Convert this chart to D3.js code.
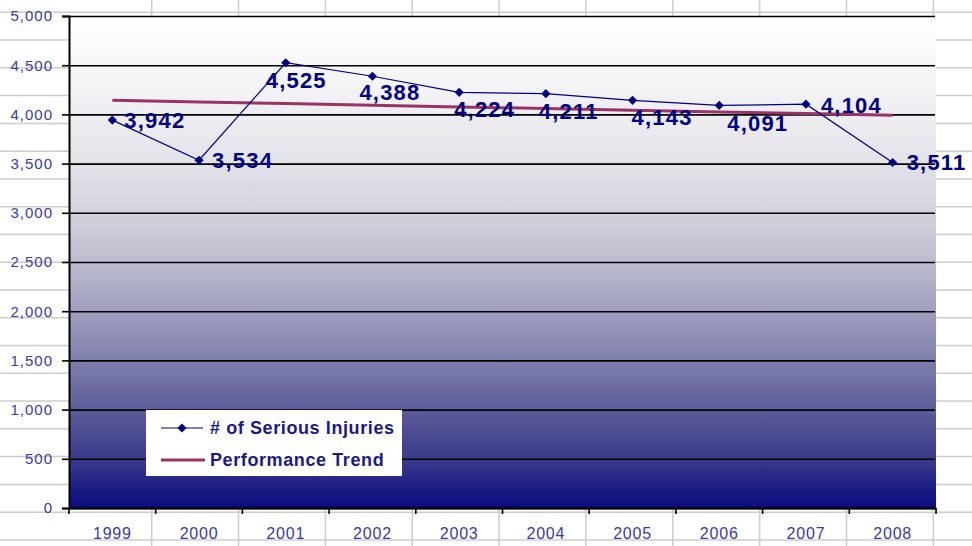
<!DOCTYPE html>
<html><head><meta charset="utf-8">
<script src="https://cdn.jsdelivr.net/npm/d3@7/dist/d3.min.js"></script>
<style>
html,body{margin:0;padding:0;background:#fff;}
svg{display:block;font-family:"Liberation Sans",Arial,sans-serif;}
</style></head>
<body>
<svg id="chart" width="972" height="546"></svg>
<script>
const years = ["1999","2000","2001","2002","2003","2004","2005","2006","2007","2008"];
const injuries = [3942, 3534, 4525, 4388, 4224, 4211, 4143, 4091, 4104, 3511];
const trend = [4144, 4127, 4110, 4093, 4076, 4059, 4042, 4025, 4008, 3991];
const yTicks = [0,500,1000,1500,2000,2500,3000,3500,4000,4500,5000];
const seriesNames = ["# of Serious Injuries", "Performance Trend"];

// label placement (dx to left edge, dy to vertical centre) relative to each point
const labelOffset = [[12,0],[13,0],[-20,17],[-13,16],[-5,16.5],[-7,17.5],[-1,17],[8,17.5],[15,1],[14,0]];

const W = 972, H = 546;
const plot = {left:69, right:936, top:16, bottom:508};
const svg = d3.select("#chart");

// spreadsheet cell grid behind the chart
const sheet = svg.append("g");
for (let k = 0; k <= 19; k++) {
  const yy = 12.3 + k*27.77;
  sheet.append("line").attr("x1",0).attr("x2",W).attr("y1",yy).attr("y2",yy)
    .attr("stroke","#cccccc").attr("stroke-width",1.5);
}
for (let k = 0; k <= 9; k++) {
  const xx = 151.7 + k*86.85;
  sheet.append("line").attr("x1",xx).attr("x2",xx).attr("y1",0).attr("y2",H)
    .attr("stroke","#cccccc").attr("stroke-width",1.5);
}

const x = d3.scaleBand().domain(years).range([plot.left, plot.right]).padding(0);
const y = d3.scaleLinear().domain([0,5000]).range([plot.bottom, plot.top]);
const cx = d => x(d) + x.bandwidth()/2;

// gradient
const defs = svg.append("defs");
const grad = defs.append("linearGradient").attr("id","bg").attr("x1",0).attr("x2",0).attr("y1",0).attr("y2",1);
[[0,"#ffffff"],[0.15,"#f3f3f6"],[0.3,"#e2e2e9"],[0.4,"#d2d2de"],[0.5,"#bcbccf"],[0.6,"#9f9fbe"],
 [0.7,"#7f7fac"],[0.8,"#5d5d9a"],[0.9,"#3a3a8b"],[1,"#0a0a80"]]
 .forEach(s => grad.append("stop").attr("offset",s[0]).attr("stop-color",s[1]));

svg.append("rect").attr("x",plot.left).attr("y",plot.top)
  .attr("width",plot.right-plot.left).attr("height",plot.bottom-plot.top)
  .attr("fill","url(#bg)");

// gridlines
const grid = svg.append("g").attr("transform",`translate(${plot.left},0)`)
  .call(d3.axisLeft(y).tickValues(yTicks).tickSize(-(plot.right-plot.left-1)).tickFormat(""));
grid.select(".domain").remove();
grid.selectAll(".tick line").attr("stroke","#000").attr("stroke-width",1.6);

// y axis
const ya = svg.append("g").attr("transform",`translate(${plot.left},0)`)
  .call(d3.axisLeft(y).tickValues(yTicks).tickSize(7).tickPadding(9).tickFormat(d3.format(",")));
ya.select(".domain").attr("stroke","#000").attr("stroke-width",2);
ya.selectAll(".tick line").attr("stroke","#000").attr("stroke-width",1.6);
ya.selectAll(".tick text").attr("fill","#3a3aa6").style("font-size","15px").style("letter-spacing","1px");

// x axis
const xa = svg.append("g").attr("transform",`translate(0,${plot.bottom})`)
  .call(d3.axisBottom(x).tickSize(0).tickPadding(20));
xa.select(".domain").attr("stroke","#000").attr("stroke-width",2);
xa.selectAll(".tick text").attr("fill","#3a3aa6").style("font-size","16px").style("letter-spacing","0.8px");
const bounds = years.map(d => x(d)).concat([plot.right]);
xa.selectAll(".bt").data(bounds).enter().append("line").attr("class","bt")
  .attr("x1",d=>d).attr("x2",d=>d).attr("y1",0).attr("y2",6)
  .attr("stroke","#000").attr("stroke-width",1.6);

// trend line
const trendLine = d3.line().x((d,i)=>cx(years[i])).y(d=>y(d));
svg.append("path").datum(trend).attr("d",trendLine)
  .attr("fill","none").attr("stroke","#993366").attr("stroke-width",3);

// injuries line
const injLine = d3.line().x((d,i)=>cx(years[i])).y(d=>y(d));
svg.append("path").datum(injuries).attr("d",injLine)
  .attr("fill","none").attr("stroke","#000080").attr("stroke-width",1.2);

const diamond = d3.symbol().type(d3.symbolSquare).size(42);
svg.selectAll(".mk").data(injuries).enter().append("path").attr("class","mk")
  .attr("d",diamond)
  .attr("transform",(d,i)=>`translate(${cx(years[i])},${y(d)}) rotate(45)`)
  .attr("fill","#000080");

// data labels
const fmt = d3.format(",");
svg.selectAll(".lbl").data(injuries).enter().append("text").attr("class","lbl")
  .attr("x",(d,i)=>cx(years[i]) + labelOffset[i][0])
  .attr("y",(d,i)=>y(d) + labelOffset[i][1])
  .attr("dy","0.36em")
  .attr("fill","#000080").style("font-size","22px").style("font-weight","bold")
  .style("letter-spacing","1.2px")
  .text(d=>fmt(d));

// legend
const lg = svg.append("g");
lg.append("rect").attr("x",146).attr("y",410).attr("width",256).attr("height",66).attr("fill","#fff");
lg.append("line").attr("x1",161).attr("x2",203).attr("y1",428).attr("y2",428)
  .attr("stroke","#000080").attr("stroke-width",1.2);
lg.append("path").attr("d",diamond).attr("transform","translate(182,428) rotate(45)").attr("fill","#000080");
lg.append("line").attr("x1",161).attr("x2",205).attr("y1",460).attr("y2",460)
  .attr("stroke","#993366").attr("stroke-width",3);
lg.selectAll(".lt").data(seriesNames).enter().append("text").attr("class","lt")
  .attr("x",210).attr("y",(d,i)=>428 + i*32).attr("dy","0.36em")
  .attr("fill","#1a1a88").style("font-size","18px").style("font-weight","bold")
  .style("letter-spacing","0.6px")
  .text(d=>d);
</script>
</body></html>
